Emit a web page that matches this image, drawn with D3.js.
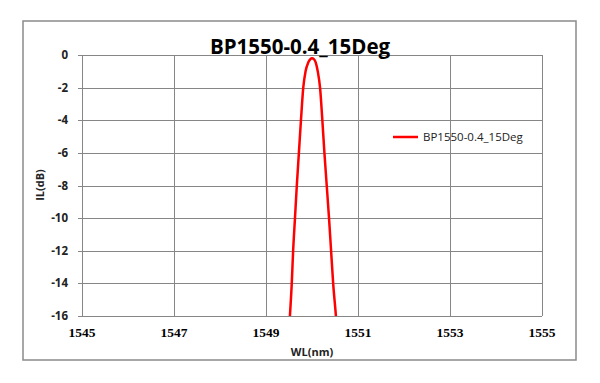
<!DOCTYPE html>
<html><head><meta charset="utf-8">
<script src="https://cdn.jsdelivr.net/npm/d3@7"></script>
<style>body{margin:0;background:#fff}svg{display:block}</style>
</head><body>
<svg id="c" width="600" height="383"></svg>
<script>
const title = "BP1550-0.4_15Deg";
const seriesName = "BP1550-0.4_15Deg";
const xTicks = [1545, 1547, 1549, 1551, 1553, 1555];
const yTicks = [0, -2, -4, -6, -8, -10, -12, -14, -16];
const wavelength = [1549.47, 1549.52, 1549.56, 1549.59, 1549.63, 1549.67, 1549.715, 1549.76, 1549.81, 1549.86, 1549.92, 1549.965, 1550.0, 1550.04, 1550.08, 1550.125, 1550.175, 1550.225, 1550.27, 1550.32, 1550.37, 1550.415, 1550.46, 1550.52, 1550.57];
const il = [-18, -16, -14, -12, -10, -8, -6, -4, -2, -1, -0.45, -0.25, -0.2, -0.25, -0.45, -1, -2, -4, -6, -8, -10, -12, -14, -16, -18];

const svg = d3.select("#c");
const L = 82, R = 542, T = 55, B = 316;
const x = d3.scaleLinear().domain([1545, 1555]).range([L, R]);
const y = d3.scaleLinear().domain([-16, 0]).range([B, T]);

svg.append("rect").attr("x", 23).attr("y", 21).attr("width", 553).attr("height", 339)
  .attr("fill", "#fff").attr("stroke", "#8a8a8a").attr("stroke-width", 1.5);

// grid
svg.append("g").selectAll("line").data(yTicks).join("line")
  .attr("x1", L - 4).attr("x2", R).attr("y1", d => Math.round(y(d)) + 0.5).attr("y2", d => Math.round(y(d)) + 0.5)
  .attr("stroke", "#868686").attr("stroke-width", 1);
svg.append("g").selectAll("line").data(xTicks).join("line")
  .attr("y1", T).attr("y2", B).attr("x1", d => Math.round(x(d)) + 0.5).attr("x2", d => Math.round(x(d)) + 0.5)
  .attr("stroke", "#868686").attr("stroke-width", 1);

// y tick labels
svg.append("g").selectAll("text").data(yTicks).join("text")
  .attr("x", 68).attr("y", d => y(d) + 4).attr("text-anchor", "end")
  .attr("font-family", "Open Sans, sans-serif").attr("font-weight", "bold").attr("font-size", 11.5)
  .attr("fill", "#222").text(d => d);

// x tick labels
svg.append("g").selectAll("text").data(xTicks).join("text")
  .attr("x", d => x(d)).attr("y", 337).attr("text-anchor", "middle")
  .attr("font-family", "Liberation Serif, serif").attr("font-weight", "bold").attr("font-size", 13.5)
  .attr("fill", "#000").text(d => d);

// axis titles
svg.append("text").attr("x", 312).attr("y", 356).attr("text-anchor", "middle")
  .attr("font-family", "Open Sans, sans-serif").attr("font-weight", "bold").attr("font-size", 11)
  .attr("fill", "#222").text("WL(nm)");
svg.append("text").attr("transform", "translate(44,185) rotate(-90)").attr("text-anchor", "middle")
  .attr("font-family", "Open Sans, sans-serif").attr("font-weight", "bold").attr("font-size", 11)
  .attr("fill", "#222").text("IL(dB)");

// title
svg.append("text").attr("x", 300).attr("y", 54).attr("text-anchor", "middle")
  .attr("font-family", "Open Sans, sans-serif").attr("font-weight", "bold").attr("font-size", 20.5)
  .attr("fill", "#000").text(title);

// curve
svg.append("clipPath").attr("id", "clip").append("rect")
  .attr("x", L).attr("y", T - 10).attr("width", R - L).attr("height", B - T + 10);
const pts = wavelength.map((w, i) => [w, il[i]]);
svg.append("path").datum(pts).attr("clip-path", "url(#clip)")
  .attr("d", d3.line().x(d => x(d[0])).y(d => y(d[1])).curve(d3.curveMonotoneX))
  .attr("fill", "none").attr("stroke", "#ff0000").attr("stroke-width", 2.5);

// legend
svg.append("line").attr("x1", 393).attr("x2", 418).attr("y1", 137).attr("y2", 137)
  .attr("stroke", "#ff0000").attr("stroke-width", 2.5);
svg.append("text").attr("x", 423).attr("y", 141)
  .attr("font-family", "Open Sans, sans-serif").attr("font-size", 11.5)
  .attr("fill", "#222").text(seriesName);
</script>
</body></html>
